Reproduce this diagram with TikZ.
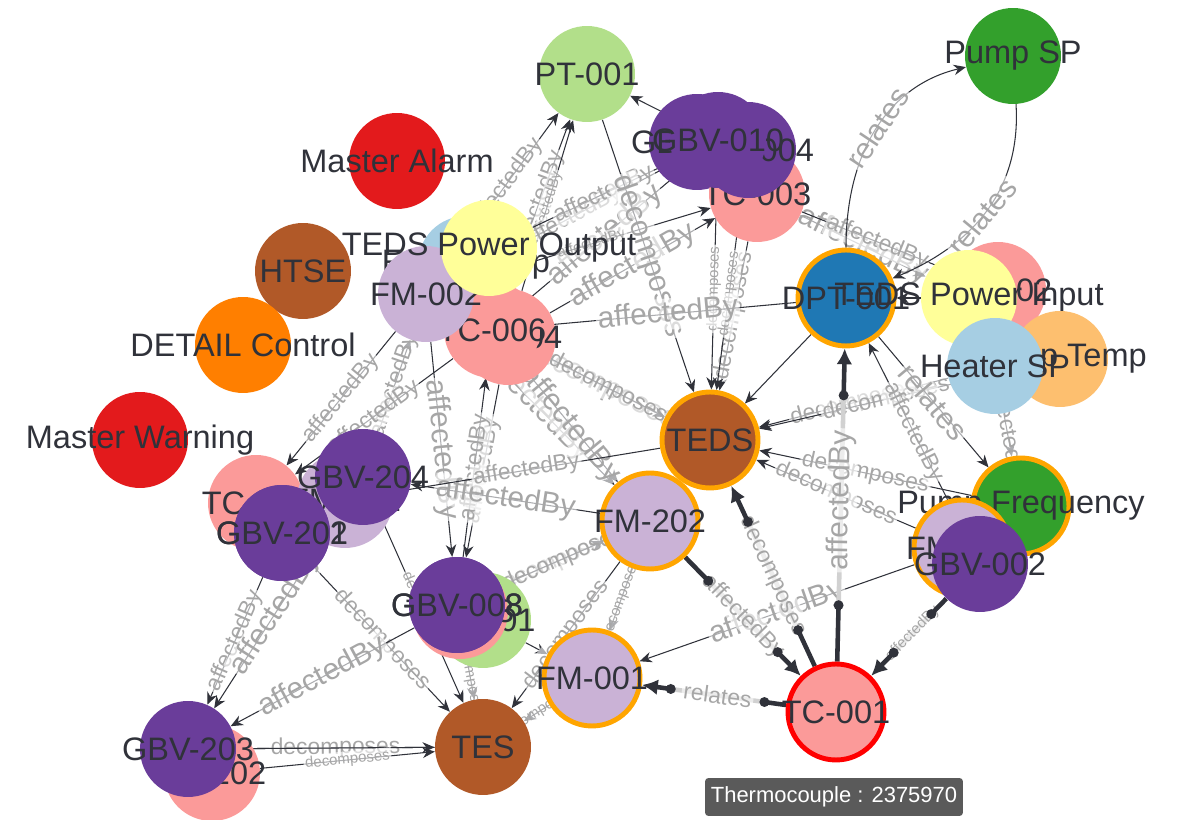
\documentclass[tikz,border=0pt]{standalone}
\usepackage{fontspec}
\setmainfont{Liberation Sans}
\usepackage{tikz}
\usetikzlibrary{arrows.meta, backgrounds}

\definecolor{cLightBlue}{HTML}{A6CEE3}
\definecolor{cBlue}{HTML}{1F78B4}
\definecolor{cLightGreen}{HTML}{B2DF8A}
\definecolor{cGreen}{HTML}{33A02C}
\definecolor{cPink}{HTML}{FB9A99}
\definecolor{cRed}{HTML}{E31A1C}
\definecolor{cLightOrange}{HTML}{FDBF6F}
\definecolor{cOrange}{HTML}{FF7F00}
\definecolor{cLilac}{HTML}{CAB2D6}
\definecolor{cPurple}{HTML}{6A3D9A}
\definecolor{cYellow}{HTML}{FFFF99}
\definecolor{cBrown}{HTML}{B15928}
\definecolor{ringOrange}{HTML}{FFA500}
\definecolor{ink}{HTML}{30323A}
\definecolor{labelGray}{HTML}{A6A6A6}
\definecolor{tipGray}{HTML}{5A5A5A}

\begin{document}
\begin{tikzpicture}[
        x=0.02cm, y=-0.02cm,
        vertex/.style={
            circle,
            inner sep=0pt,
            minimum size=1.92cm
        },
        hub/.style={
            vertex,
            draw=ringOrange,
            line width=2.8pt
        },
        focus/.style={
            vertex,
            draw=red,
            line width=2.8pt
        },
        vlabel/.style={
            font=\fontsize{18.5}{20}\selectfont,
            text=ink,
            inner sep=0pt
        },
        relbase/.style={
            text=labelGray,
            fill=white,
            fill opacity=0.6,
            text opacity=1,
            inner sep=1pt,
            sloped
        },
        rel/.style={relbase, font=\fontsize{13}{14}\selectfont},
        relsm/.style={relbase, font=\fontsize{8.5}{9}\selectfont},
        relbig/.style={relbase, font=\fontsize{17}{18}\selectfont},
        arrow/.style={
            draw=ink,
            line width=0.6pt,
            -{Stealth[length=7pt,width=6pt]}
        },
        hot/.style={draw=ink, line width=2.6pt},
        hotmid/.style={draw=black!18, line width=2.6pt},
        hottip/.style={hot, -{Latex[length=9pt,width=9pt]}},
        tooltip/.style={
            fill=tipGray,
            text=white,
            rounded corners=2pt,
            minimum width=5.16cm,
            minimum height=0.76cm,
            font=\fontsize{12.5}{14}\selectfont
        }
    ]

    \useasboundingbox (0,0) rectangle (1178,820);

    % --------------------------------------------------------
    % Isolated nodes
    % --------------------------------------------------------

    \node[vertex, fill=cRed, label={[vlabel]center:Master Alarm}] (malarm) at (397,161) {};
    \node[vertex, fill=cRed, label={[vlabel]center:Master Warning}] (mwarn) at (140,440) {};
    \node[vertex, fill=cBrown, label={[vlabel]center:HTSE}] (htse) at (303,271) {};
    \node[vertex, fill=cOrange, label={[vlabel]center:DETAIL Control}] (detail) at (243,345) {};
    \node[vertex, fill=cGreen, label={[vlabel]center:Pump SP}] (pumpsp) at (1013,56) {};
    \node[vertex, fill=cLightGreen, label={[vlabel]center:PT-001}] (pt1) at (587,74) {};

    % --------------------------------------------------------
    % Upper cluster
    % --------------------------------------------------------

    \node[vertex, fill=cPurple, label={[vlabel]center:GBV-012}] (gbvx) at (697,142) {};
    \node[vertex, fill=cPink, label={[vlabel]center:TC-003}] (tc3) at (757,194) {};
    \node[vertex, fill=cPurple, label={[vlabel]center:GBV-004}] (gbv4) at (748,150) {};
    \node[vertex, fill=cPurple, label={[vlabel]center:GBV-010}] (gbv10) at (718,140) {};

    \node[vertex, fill=cLightBlue, label={[vlabel]center:Feed Pump}] (fpump) at (466,264) {};
    \node[vertex, fill=cPink, label={[vlabel]center:TC-004}] (tc4) at (508,337) {};
    \node[vertex, fill=cPink, label={[vlabel]center:TC-006}] (tc6) at (492,330) {};
    \node[vertex, fill=cLilac, label={[vlabel]center:FM-002}] (fm2) at (426,294) {};
    \node[vertex, fill=cYellow, label={[vlabel]center:TEDS Power Output}] (tpo) at (489,248) {};

    % right side
    \node[hub, fill=cBlue, label={[vlabel]center:DPT-001}] (dpt) at (846,298) {};
    \node[vertex, fill=cPink, label={[vlabel]center:TC-002}] (tc2) at (998,290) {};
    \node[vertex, fill=cYellow, label={[vlabel]center:TEDS Power Input}] (tpi) at (969,298) {};
    \node[vertex, fill=cLightOrange, label={[vlabel]center:Pump Temp}] (ptemp) at (1060,359) {};
    \node[vertex, fill=cLightBlue, label={[vlabel]center:Heater SP}] (hsp) at (995,366) {};

    \node[hub, fill=cGreen, label={[vlabel]center:Pump Frequency}] (pfreq) at (1021,506) {};
    \node[hub, fill=cLilac, label={[vlabel]center:FM-102}] (fm102) at (962,548) {};
    \node[vertex, fill=cPurple, label={[vlabel]center:GBV-002}] (gbv2) at (980,564) {};

    % --------------------------------------------------------
    % Left cluster
    % --------------------------------------------------------

    \node[vertex, fill=cPink, label={[vlabel]center:TC-201}] (tcw) at (256,503) {};
    \node[vertex, fill=cLilac, label={[vlabel]center:FM-201}] (fm201) at (345,500) {};
    \node[vertex, fill=cPurple, label={[vlabel]center:GBV-204}] (gbv204) at (363,477) {};
    \node[vertex, fill=cPurple, label={[vlabel]center:GBV-201}] (gbv201) at (282,533) {};
    \node[vertex, fill=cPurple, label={[vlabel]center:GBV-202}] (gbv202) at (282,533) {};

    \node[vertex, fill=cLightGreen, label={[vlabel]center:PT-201}] (pt201) at (483,620) {};
    \node[vertex, fill=cPink, label={[vlabel]center:TC-203}] (tc203) at (460,611) {};
    \node[vertex, fill=cPurple, label={[vlabel]center:GBV-008}] (gbv8) at (457,605) {};
    \node[vertex, fill=cPurple, label={[vlabel]center:GBV-003}] (gbv3) at (457,605) {};

    % --------------------------------------------------------
    % Lower cluster
    % --------------------------------------------------------

    \node[hub, fill=cLilac, label={[vlabel]center:FM-202}] (fm202) at (650,521) {};
    \node[hub, fill=cBrown, label={[vlabel]center:TEDS}] (teds) at (710,440) {};
    \node[hub, fill=cLilac, label={[vlabel]center:FM-001}] (fm1) at (592,678) {};
    \node[vertex, fill=cBrown, label={[vlabel]center:TES}] (tes) at (483,747) {};
    \node[focus, fill=cPink, label={[vlabel]center:TC-001}] (tc1) at (836,712) {};

    \node[vertex, fill=cPink, label={[vlabel]center:TC-202}] (tc202) at (212,773) {};
    \node[vertex, fill=cPurple, label={[vlabel]center:GBV-203}] (gbv203) at (188,749) {};

    % hover box
    \node[tooltip] (tip) at (834,797) {Thermocouple : 2375970};

    % --------------------------------------------------------
    % Connectors (behind the nodes)
    % --------------------------------------------------------

    \begin{pgfonlayer}{background}

    % into PT-001
    \draw[arrow] (fm2) -- node[rel] {affectedBy} (pt1);
    \draw[arrow] (tc6) -- node[rel] {affectedBy} (pt1);
    \draw[arrow] (tc4) -- node[relsm] {affectedBy} (pt1);
    \draw[arrow] (gbv10) -- (pt1);

    % into GBV-010 and TC-003
    \draw[arrow] (fm2) -- node[rel] {affectedBy} (gbv10);
    \draw[arrow] (tc6) -- node[relbig] {affectedBy} (gbv10);
    \draw[arrow] (tpo) -- node[rel] {affectedBy} (gbv10);
    \draw[arrow] (tc4) -- node[relbig] {affectedBy} (tc3);
    \draw[arrow] (fm2) -- node[relsm] {affectedBy} (tc3);

    % into TEDS
    \draw[arrow] (pt1) -- node[relbig] {decomposes} (teds);
    \draw[arrow] (tc3) -- node[rel] {decomposes} (teds);
    \draw[arrow] (gbv10) -- node[relsm] {decomposes} (teds);
    \draw[arrow] (gbv4) -- node[relsm] {decomposes} (teds);
    \draw[arrow] (tc6) -- node[relbig] {decomposes} (teds);
    \draw[arrow] (tc4) -- node[rel] {decomposes} (teds);
    \draw[arrow] (dpt) -- (teds);
    \draw[arrow] (hsp) -- node[rel] {decomposes} (teds);
    \draw[arrow] (ptemp) -- node[rel] {decomposes} (teds);
    \draw[arrow] (pfreq) -- node[rel] {decomposes} (teds);
    \draw[arrow] (fm102) -- node[rel] {decomposes} (teds);

    % around DPT-001
    \draw[arrow] (dpt) -- node[relbig] {affectedBy} (tc6);
    \draw[arrow] (tpi) -- (dpt);
    \draw[arrow] (tc3) -- node[relbig] {affectedBy} (tpi);
    \draw[arrow] (tc3) -- node[rel] {affectedBy} (tc2);
    \draw[arrow] (dpt)
        .. controls (846,150) and (890,85) ..
        node[relbig] {relates} (pumpsp);
    \draw[arrow] (pumpsp)
        .. controls (1022,200) and (960,250) ..
        node[relbig] {relates} (dpt);
    \draw[arrow] (dpt) -- node[relbig] {relates} (pfreq);
    \draw[arrow] (gbv2) -- node[rel] {affectedBy} (dpt);
    \draw[arrow] (hsp) -- node[rel] {affectedBy} (pfreq);
    \draw[arrow] (fm102) -- node[relbig] {affectedBy} (fm1);

    % left cluster
    \draw[arrow] (fm2) -- node[relbig] {affectedBy} (fm202);
    \draw[arrow] (tc6) -- node[relbig] {affectedBy} (fm202);
    \draw[arrow] (fm2) -- node[relbig] {affectedBy} (gbv8);
    \draw[arrow] (tc4) -- node[rel] {affectedBy} (gbv8);
    \draw[arrow] (gbv8) -- node[rel] {affectedBy} (tc6);
    \draw[arrow] (gbv204) -- node[rel] {affectedBy} (fm2);
    \draw[arrow] (fm2) -- node[rel] {affectedBy} (tcw);
    \draw[arrow] (tc6) -- node[rel] {affectedBy} (tcw);
    \draw[arrow] (fm202) -- node[relbig] {affectedBy} (gbv204);
    \draw[arrow] (teds) -- node[rel] {affectedBy} (fm201);
    \draw[arrow] (gbv8) -- node[rel] {decomposes} (fm202);
    \draw[arrow] (gbv3) -- node[rel, pos=.6] {decomposes} (fm202);
    \draw[arrow] (fm202) -- node[relsm] {decomposes} (fm1);
    \draw[arrow] (pt201) -- (fm1);

    % into TES and GBV-203
    \draw[arrow] (fm1) -- node[relsm] {decomposes} (tes);
    \draw[arrow] (fm202) -- node[rel] {decomposes} (tes);
    \draw[arrow] (gbv8) -- node[relsm] {decomposes} (tes);
    \draw[arrow] (gbv202) -- node[rel] {decomposes} (tes);
    \draw[arrow] (gbv204) -- node[relsm] {decomposes} (tes);
    \draw[arrow] (gbv8) -- node[relbig] {affectedBy} (gbv203);
    \draw[arrow] (gbv202) -- node[rel] {affectedBy} (gbv203);
    \draw[arrow] (gbv204) -- node[relbig] {affectedBy} (gbv203);
    \draw[arrow] (tes) -- node[rel] {decomposes} (gbv203);
    \draw[arrow] (gbv203) -- (tes);
    \draw[arrow] (tc202) -- node[relsm] {decomposes} (tes);

    % --------------------------------------------------------
    % Highlighted links of TC-001
    % --------------------------------------------------------

    % TC-001 -> TEDS
    \path (tc1) -- coordinate[pos=.2] (h1a) coordinate[pos=.8] (h1b) (teds);
    \draw[hotmid] (h1a) -- node[rel] {decomposes} (h1b);
    \draw[hot] (tc1) -- (h1a);
    \draw[hottip] (h1b) -- (teds);
    \fill[ink] (h1a) circle (0.1cm) (h1b) circle (0.1cm);

    % FM-202 -> TC-001
    \path (fm202) -- coordinate[pos=.2] (h2a) coordinate[pos=.8] (h2b) (tc1);
    \draw[hotmid] (h2a) -- node[rel] {affectedBy} (h2b);
    \draw[hot] (fm202) -- (h2a);
    \draw[hottip] (h2b) -- (tc1);
    \fill[ink] (h2a) circle (0.1cm) (h2b) circle (0.1cm);

    % TC-001 -> DPT-001
    \path (tc1) -- coordinate[pos=.18] (h3a) coordinate[pos=.85] (h3b) (dpt);
    \draw[hotmid] (h3a) -- node[relbig] {affectedBy} (h3b);
    \draw[hot] (tc1) -- (h3a);
    \draw[hottip] (h3b) -- (dpt);
    \fill[ink] (h3a) circle (0.1cm) (h3b) circle (0.1cm);

    % TC-001 -> FM-001
    \path (tc1) -- coordinate[pos=.15] (h4a) coordinate[pos=.8] (h4b) (fm1);
    \draw[hotmid] (h4a) -- node[rel] {relates} (h4b);
    \draw[hot] (tc1) -- (h4a);
    \draw[hottip] (h4b) -- (fm1);
    \fill[ink] (h4a) circle (0.1cm) (h4b) circle (0.1cm);

    % GBV-002 -> TC-001
    \path (gbv2) -- coordinate[pos=.2] (h5a) coordinate[pos=.7] (h5b) (tc1);
    \draw[hotmid] (h5a) -- node[relsm] {affectedBy} (h5b);
    \draw[hot] (gbv2) -- (h5a);
    \draw[hottip] (h5b) -- (tc1);
    \fill[ink] (h5a) circle (0.1cm) (h5b) circle (0.1cm);

    \end{pgfonlayer}

\end{tikzpicture}
\end{document}
